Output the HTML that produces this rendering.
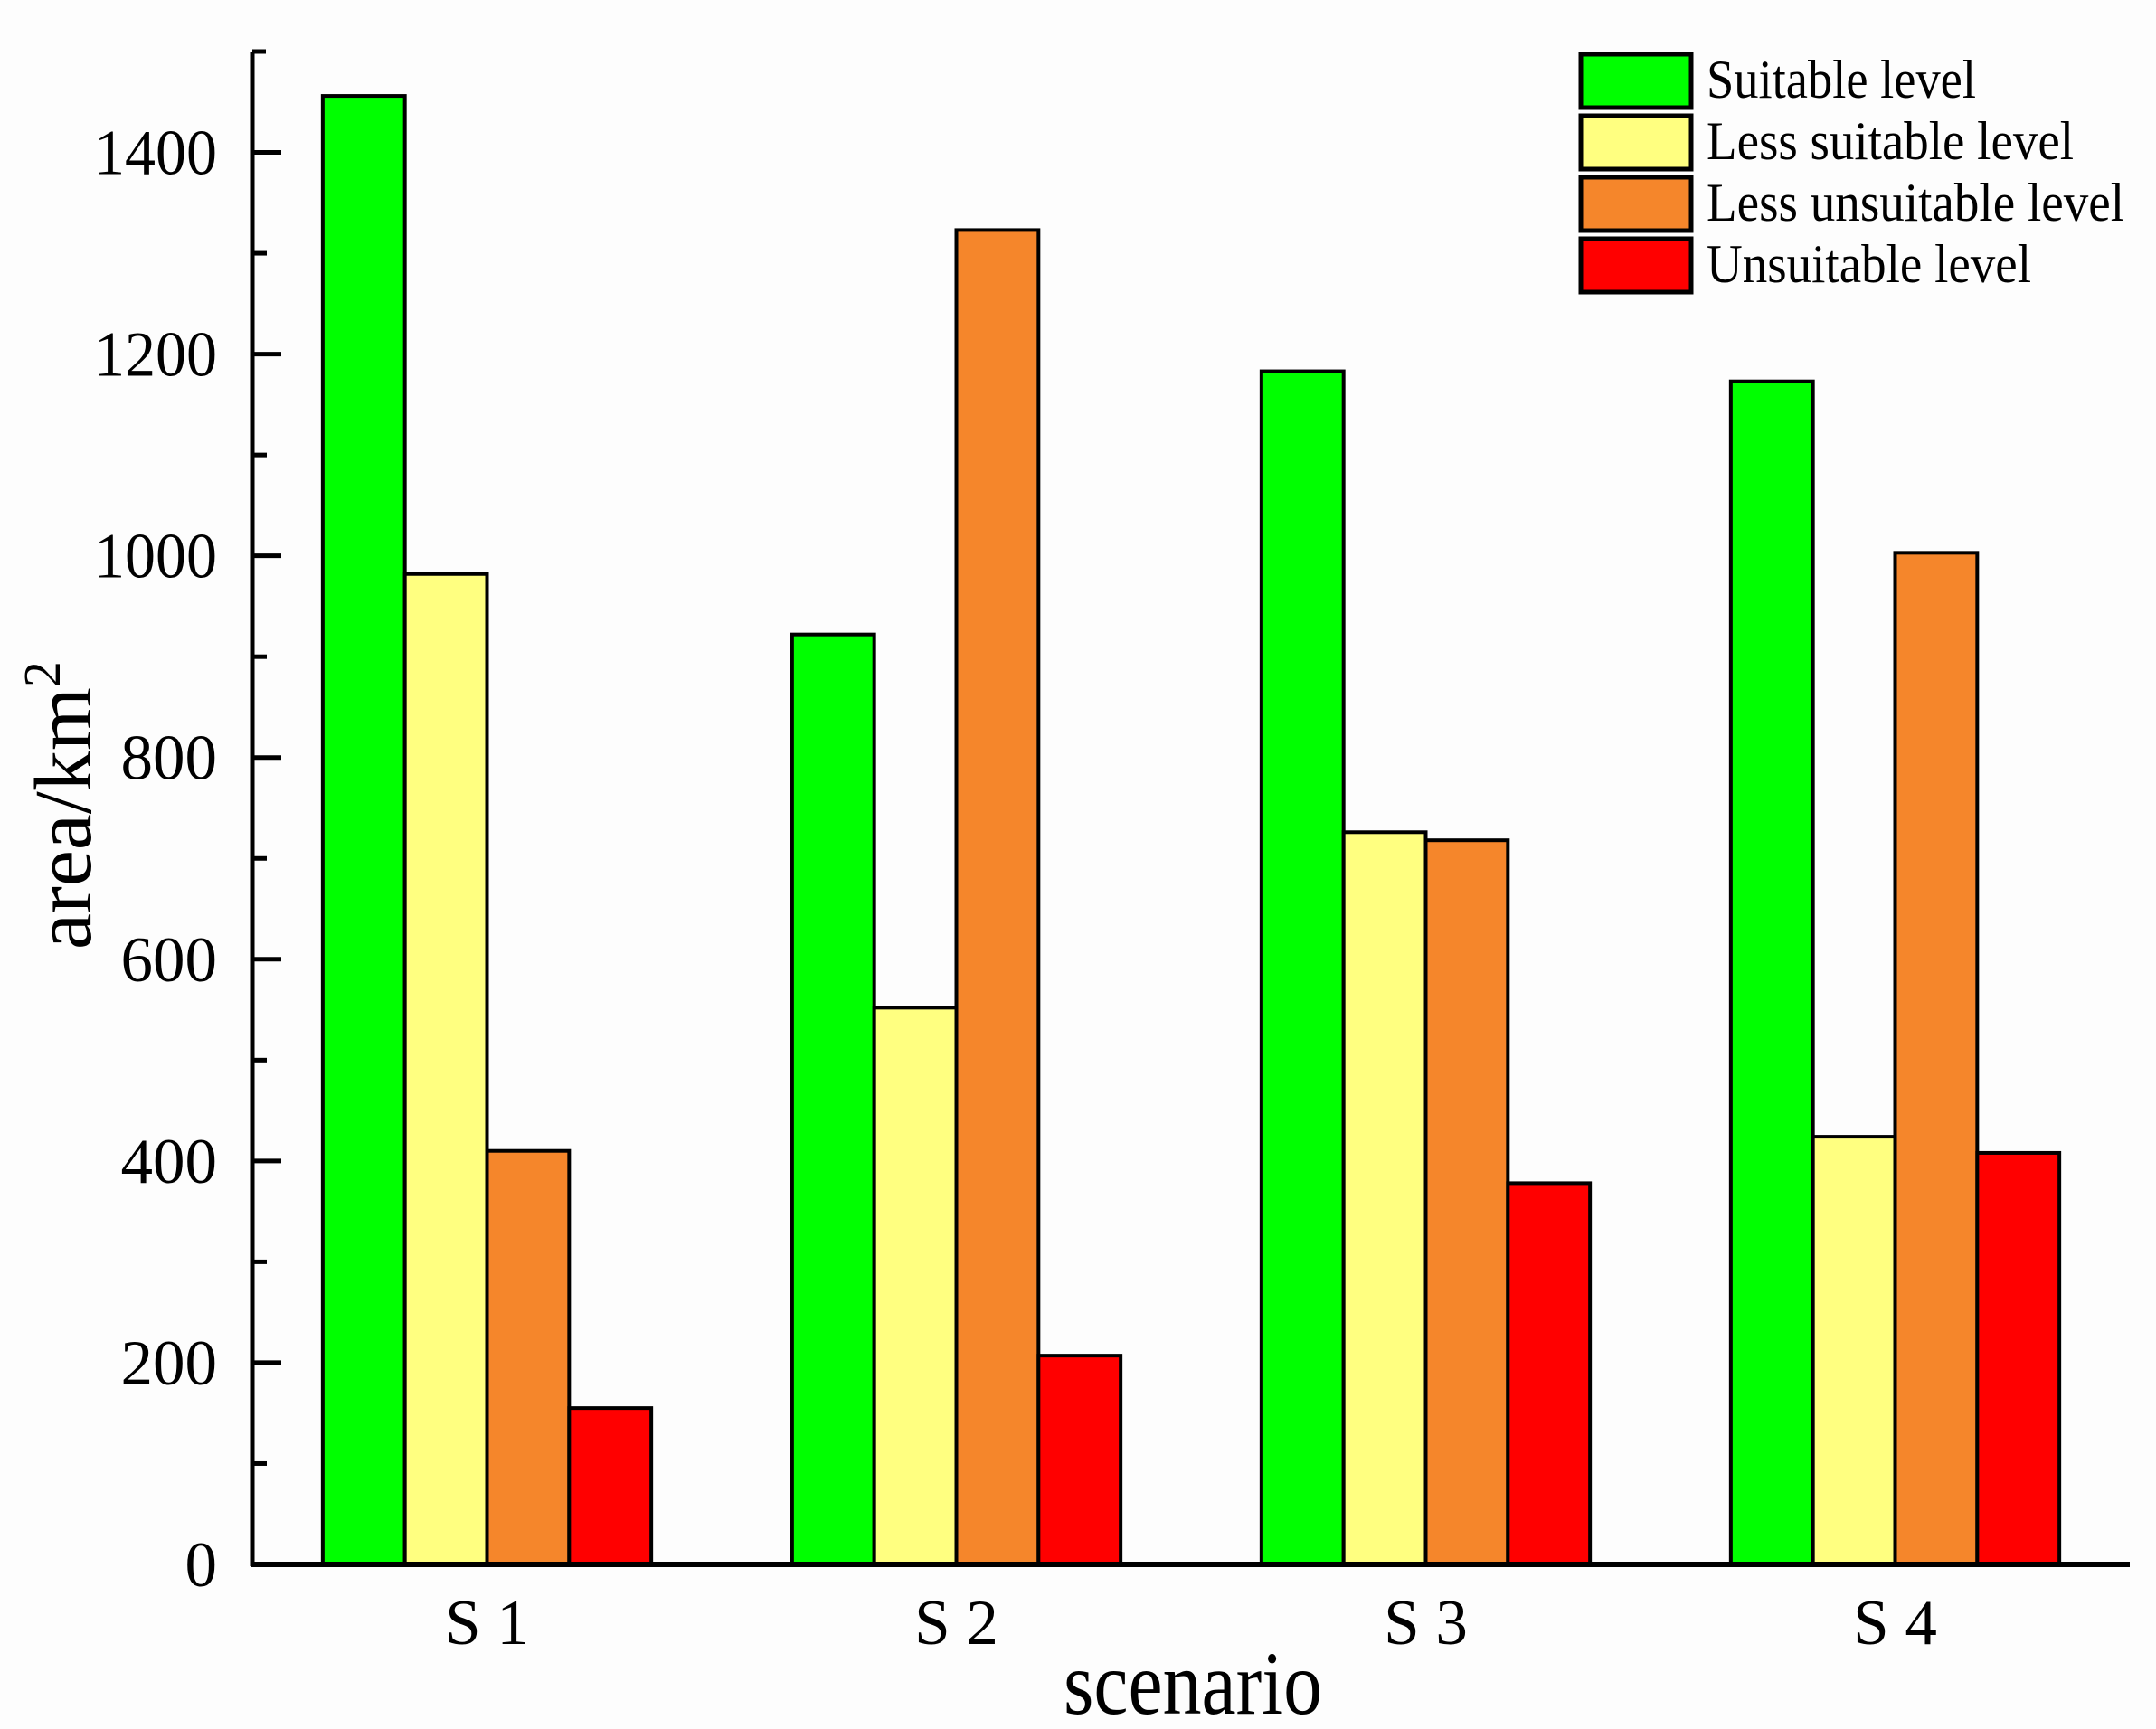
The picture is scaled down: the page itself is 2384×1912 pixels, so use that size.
<!DOCTYPE html>
<html><head><meta charset="utf-8"><style>
html,body{margin:0;padding:0;background:#fdfdfd;}
svg{display:block;}
text{font-family:"Liberation Serif",serif;fill:#000;}
</style></head><body>
<svg id="chart" width="2384" height="1912" viewBox="0 0 2384 1912" xmlns="http://www.w3.org/2000/svg">
<rect x="0" y="0" width="2384" height="1912" fill="#fdfdfd"/>
<g id="plot"></g>
</svg>
<script>
const categories = ["S 1","S 2","S 3","S 4"];
const seriesNames = ["Suitable level","Less suitable level","Less unsuitable level","Unsuitable level"];
const seriesColors = ["#00ff00","#ffff80","#f5862b","#ff0000"];
const suitable = [1456, 922, 1183, 1173];
const lessSuitable = [982, 552, 726, 424];
const lessUnsuitable = [410, 1323, 718, 1003];
const unsuitable = [155, 207, 378, 408];
const yTicks = [0, 200, 400, 600, 800, 1000, 1200, 1400];
const yMax = 1500;

const series = [suitable, lessSuitable, lessUnsuitable, unsuitable];
const legendWidths = [298, 406, 462, 359];
const NS = "http://www.w3.org/2000/svg";
const g = document.getElementById('plot');
const X0 = 279, X1 = 2355, Y0 = 1730, YTOP = 57;
const band = (X1 - X0) / categories.length;
const barW = band * 0.7 / 4;
function yScale(v){ return Y0 - v * (Y0 - YTOP) / yMax; }
function xBand(i){ return X0 + band * i; }
function mk(tag, attrs){ const e = document.createElementNS(NS, tag); for (const k in attrs) e.setAttribute(k, attrs[k]); g.appendChild(e); return e; }

// bars
categories.forEach((c, i) => {
  const left = xBand(i) + band * 0.15;
  series.forEach((s, j) => {
    const y = yScale(s[i]);
    const r = mk('rect', {x: left + j * barW, y: y, width: barW, height: Y0 - y, fill: seriesColors[j], stroke: '#000', 'stroke-width': 4});
    
    
  });
});

// axes
const ya = mk('line', {x1: X0, y1: YTOP, x2: X0, y2: Y0 + 2, stroke: '#000', 'stroke-width': 5});


const xa = mk('line', {x1: X0 - 2, y1: Y0, x2: X1, y2: Y0, stroke: '#000', 'stroke-width': 6});


const topTick = mk('line', {x1: X0, y1: YTOP, x2: X0 + 15, y2: YTOP, stroke: '#000', 'stroke-width': 5});



// y ticks
yTicks.forEach(v => {
  const y = yScale(v);
  if (v > 0) {
    const t = mk('line', {x1: X0, y1: y, x2: X0 + 32, y2: y, stroke: '#000', 'stroke-width': 5});
    
    
  }
  const m = yScale(v + 100);
  if (v + 100 < yMax) {
    const mt = mk('line', {x1: X0, y1: m, x2: X0 + 16, y2: m, stroke: '#000', 'stroke-width': 5});
    
    
  }
  const lab = mk('text', {x: 240, y: y + 24, 'text-anchor': 'end', 'font-size': 71});
  lab.textContent = String(v);
  
  
  if (String(v).length === 4) { lab.setAttribute('textLength', 136); lab.setAttribute('lengthAdjust', 'spacingAndGlyphs'); }
});

// x labels
categories.forEach((c, i) => {
  const lab = mk('text', {x: xBand(i) + band / 2, y: 1818, 'text-anchor': 'middle', 'font-size': 71});
  lab.textContent = c;
  
  
});

// axis titles
const xt = mk('text', {x: 1176, y: 1895, 'font-size': 100, textLength: 286, lengthAdjust: 'spacingAndGlyphs'});
xt.textContent = 'scenario';


const yt = mk('text', {x: 0, y: 0, 'font-size': 90, transform: 'translate(100,1050) rotate(-90)'});
yt.innerHTML = 'area/km<tspan dy="-34" font-size="58">2</tspan>';



// legend
seriesNames.forEach((n, j) => {
  const top = 60 + j * 68;
  const b = mk('rect', {x: 1748, y: top, width: 122, height: 59, fill: seriesColors[j], stroke: '#000', 'stroke-width': 5});
  
  
  const t = mk('text', {x: 1887, y: top + 48, 'font-size': 60, textLength: legendWidths[j], lengthAdjust: 'spacingAndGlyphs'});
  t.textContent = n;
  
  
});
</script>
</body></html>
